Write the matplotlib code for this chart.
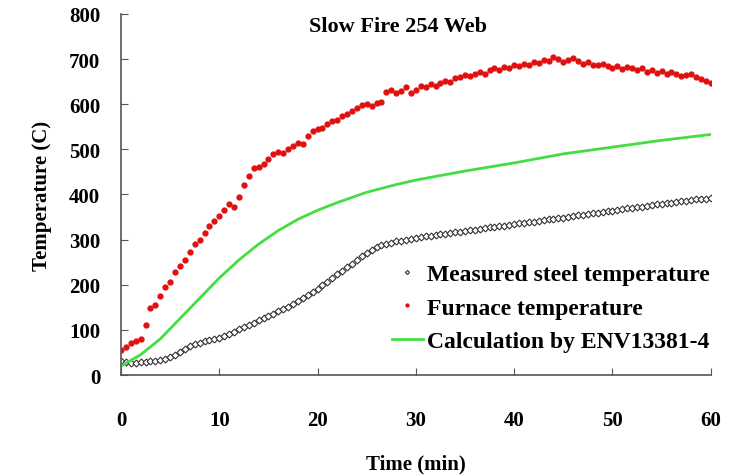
import numpy as np
import matplotlib
matplotlib.use("Agg")
import matplotlib.pyplot as plt

plt.rcParams['font.family'] = ['Liberation Serif', 'DejaVu Serif']
plt.rcParams['font.weight'] = 'bold'

# time base of the logged readings (min), one reading every 30 s
t_log = np.arange(0, 60.5, 0.5)

# furnace gas temperature (C)
furnace = [
    55, 62, 70, 75, 80, 110, 148, 155, 175, 195,
    207, 228, 242, 255, 272, 290, 300, 315, 330, 342,
    352, 365, 378, 372, 395, 420, 440, 458, 462, 468,
    478, 490, 495, 492, 500, 508, 515, 512, 530, 540,
    545, 548, 556, 562, 565, 575, 578, 585, 592, 598,
    600, 597, 602, 605, 628, 632, 625, 630, 638, 626,
    632, 640, 638, 645, 640, 648, 652, 650, 658, 660,
    665, 662, 668, 672, 668, 675, 680, 676, 682, 680,
    686, 684, 690, 688, 694, 692, 698, 695, 705, 700,
    693, 698, 702, 696, 690, 694, 688, 686, 690, 684,
    680, 684, 678, 682, 680, 676, 680, 672, 675, 670,
    673, 668, 672, 666, 662, 665, 668, 660, 656, 652,
    648,
]

# measured steel temperature in the web (C)
steel = [
    32, 28, 27, 27, 28, 29, 30, 32, 34, 36,
    40, 45, 50, 58, 64, 68, 72, 75, 78, 80,
    83, 86, 91, 96, 101, 106, 111, 116, 121, 126,
    131, 136, 141, 146, 151, 157, 163, 170, 177, 184,
    191, 199, 207, 215, 223, 231, 239, 247, 255, 263,
    271, 278, 283, 287, 290, 293, 296, 298, 300, 302,
    304, 306, 307, 309, 310, 312, 313, 315, 316, 318,
    319, 321, 322, 324, 325, 327, 328, 330, 331, 333,
    334, 336, 337, 339, 340, 342, 343, 345, 346, 348,
    349, 351, 352, 354, 355, 357, 358, 360, 361, 363,
    364, 366, 367, 369, 370, 372, 373, 375, 376, 378,
    379, 381, 382, 383, 385, 386, 388, 389, 390, 391,
    392,
]

# calculated steel temperature, ENV 13381-4
t_calc = [0, 2, 4, 6, 8, 10, 12, 14, 16, 18, 20, 22, 25, 28, 30, 35, 40, 45, 50, 55, 60]
calc = [20, 45, 80, 125, 170, 215, 255, 290, 320, 345, 365, 382, 405, 422, 432,
        452, 470, 490, 505, 520, 533]

fig = plt.figure(figsize=(7.35, 4.77), dpi=100)
ax = fig.add_axes([0.1646, 0.2117, 0.8024, 0.7569])

ax.plot(t_log, steel, linestyle='none', marker='D', markersize=3.5,
        markerfacecolor='white', markeredgecolor='#333333', markeredgewidth=0.8,
        label='Measured steel temperature')
ax.plot(t_log, furnace, linestyle='none', marker='o', markersize=3.5,
        color='#e01010', label='Furnace temperature')
ax.plot(t_calc, calc, color='#44dd44', linewidth=2,
        label='Calculation by ENV13381-4')

ax.set_xlim(0, 60)
ax.set_ylim(0, 800)
ax.set_xticks(range(0, 61, 10))
ax.set_yticks(range(0, 801, 100))

for side in ['top', 'right']:
    ax.spines[side].set_visible(False)
for side in ['left', 'bottom']:
    ax.spines[side].set_color('#555555')
    ax.spines[side].set_linewidth(1.2)

ax.tick_params(axis='both', direction='in', length=5, color='#555555',
               labelsize=15)
ax.tick_params(axis='x', pad=25)
ax.tick_params(axis='y', pad=15)

ax.set_xlabel('Time (min)', fontsize=15, fontweight='bold', labelpad=17)
ax.set_ylabel('Temperature (C)', fontsize=15, fontweight='bold', labelpad=12)
ax.text(0.47, 0.995, 'Slow Fire 254 Web', transform=ax.transAxes,
        ha='center', va='top', fontsize=16, fontweight='bold')

leg = ax.legend(loc='lower right', bbox_to_anchor=(1.035, 0.005), frameon=False,
                fontsize=17, markerscale=0.6, handlelength=1.3,
                handletextpad=0.2, labelspacing=0.5)

fig.savefig('out.png', dpi=100)
